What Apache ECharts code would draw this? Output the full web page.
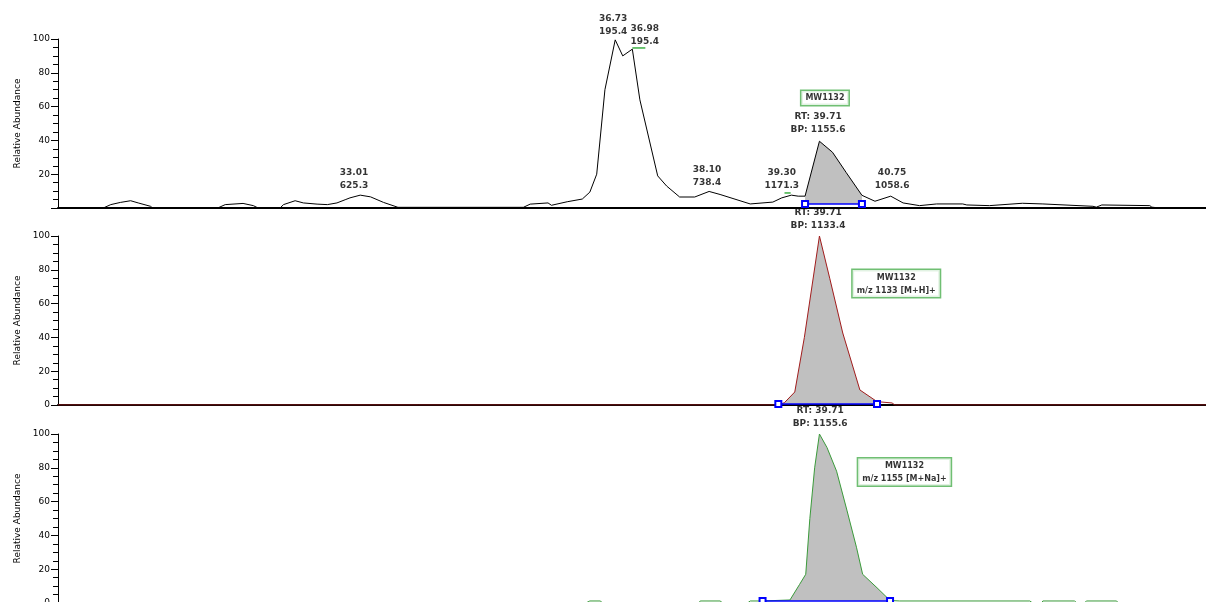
<!DOCTYPE html>
<html><head><meta charset="utf-8">
<script src="https://cdn.jsdelivr.net/npm/echarts@6/dist/echarts.min.js"></script>
<style>html,body{margin:0;padding:0;background:#fff;overflow:hidden}#c{width:1206px;height:602px}</style>
</head><body><div id="c"></div><script>
// ---- Data (retention time in min, relative abundance %) ----
const ticTime  = [28.60,29.26,29.37,29.51,29.66,29.77,29.95,29.98,30.93,31.04,31.30,31.45,31.52,31.84,31.89,32.06,32.18,32.38,32.53,32.67,32.79,32.86,33.01,33.16,33.35,33.56,35.39,35.49,35.75,35.80,36.03,36.25,36.36,36.46,36.58,36.73,36.84,36.98,37.09,37.35,37.48,37.67,37.89,38.10,38.26,38.70,39.03,39.16,39.30,39.40,39.50,39.71,39.90,40.10,40.33,40.52,40.75,40.93,41.17,41.42,41.80,41.86,42.19,42.67,42.97,43.70,43.75,43.83,44.53,44.56,44.67,45.35];
const ticValue = [0,0,2,3.3,4.3,3,1,0,0,2,2.7,1.4,0,0,2,4.3,3,2.3,2,3,4.9,6,7.6,6.6,3.3,0.4,0.4,2.3,3,1.6,3.7,5.3,9.4,20,70,99.5,90,94,64,19,13,6.5,6.5,9.8,8,2.4,3.5,6,7.6,7,7,39.5,33,21,7.5,4,7,3,1.4,2.4,2.4,1.8,1.4,2.8,2.4,1.0,0.5,1.8,1.4,0.5,0,0];

const mhTime  = [28.60,39.11,39.20,39.35,39.49,39.71,39.86,40.05,40.30,40.55,40.77,40.81,45.35];
const mhValue = [0,0,1.4,7.7,40,100,75,42.6,8.9,2,1.2,0,0];

const mnaTime  = [28.60,36.30,36.36,36.51,36.55,37.95,37.97,38.26,38.30,38.66,38.70,38.88,39.28,39.42,39.51,39.57,39.64,39.71,39.82,39.96,40.11,40.25,40.34,40.55,40.74,40.88,42.78,42.82,42.95,42.97,43.43,43.47,43.57,43.61,44.04,44.08,45.35];
const mnaValue = [0,0,1.2,1.2,0,0,1.2,1.2,0,0,1.2,1.2,1.8,11,17,50,80,100,92,78,55,33,17,9,1.5,1.2,1.2,0,0,1.2,1.2,0,0,1.2,1.2,0,0];

// integrated peak windows [start, end, baseline]
const ticPeak = [39.50, 40.33, 2.4];
const mhPeak  = [39.11, 40.55, 0.6];
const mnaPeak = [38.88, 40.74, 1.2];

// peak labels: [time, abundance, text]
const ticLabels = [
  [36.70, 100.5, '36.73\n195.4'],
  [37.16, 94.5, '36.98\n195.4'],
  [38.07, 11.2, '38.10\n738.4'],
  [39.16, 9.5, '39.30\n1171.3'],
  [40.77, 9.5, '40.75\n1058.6'],
  [32.92, 9.5, '33.01\n625.3'],
  [39.69, 42.6, 'RT: 39.71\nBP: 1155.6']
];
const mhLabels  = [[39.69, 102.5, 'RT: 39.71\nBP: 1133.4']];
const mnaLabels = [[39.72, 102.5, 'RT: 39.71\nBP: 1155.6']];

// picked-peak marks under labels: [startTime, endTime, abundance]
const ticMarks = [[36.98, 37.17, 94.7], [39.20, 39.29, 8.9]];

// boxed compound labels: [time, abundance, text]
const ticBoxes = [[39.79, 61, 'MW1132']];
const mhBoxes  = [[40.83, 63.9, 'MW1132\nm/z 1133 [M+H]+']];
const mnaBoxes = [[40.95, 69.6, 'MW1132\nm/z 1155 [M+Na]+']];

const yTicks = [0, 20, 40, 60, 80, 100];

// ---- Chart ----
const zip = (a, b) => a.map((t, i) => [t, b[i]]);
const FONT = 'DejaVu Sans';
const grids = [
  {left: 58, right: 0, top: 39, height: 169, outerBoundsMode: 'none', containLabel: false},
  {left: 58, right: 0, top: 236, height: 169, outerBoundsMode: 'none', containLabel: false},
  {left: 58, right: 0, top: 434, height: 169, outerBoundsMode: 'none', containLabel: false}
];
const xAxes = grids.map((g, i) => ({
  type: 'value', gridIndex: i, min: 28.6, max: 45.35,
  axisLine: {show: true, onZero: false, lineStyle: {color: '#000', width: 2}},
  axisTick: {show: false}, axisLabel: {show: false}, splitLine: {show: false}
}));
const yAxes = grids.map((g, i) => ({
  type: 'value', gridIndex: i, min: yTicks[0], max: yTicks[yTicks.length - 1], interval: yTicks[1] - yTicks[0],
  name: 'Relative Abundance', nameLocation: 'middle', nameGap: 36, nameRotate: 90,
  nameTextStyle: {fontFamily: FONT, fontSize: 9, color: '#000'},
  axisLine: {show: true, lineStyle: {color: '#000', width: 1}},
  axisTick: {show: true, length: 7, lineStyle: {color: '#000'}},
  minorTick: {show: true, splitNumber: 4, length: 5, lineStyle: {color: '#000'}},
  splitLine: {show: false},
  axisLabel: {fontFamily: FONT, fontSize: 9, color: '#000', margin: 8,
    formatter: v => (i === 0 && v === 0) ? '' : String(v)}
}));

function traceSeries(idx, t, v, color, peak, labels, boxes, marks) {
  const pts = zip(t, v);
  const fillPts = pts.filter(p => p[0] >= peak[0] && p[0] <= peak[1]);
  const out = [
    {type: 'line', xAxisIndex: idx, yAxisIndex: idx, data: fillPts, symbol: 'none', z: 1,
     lineStyle: {width: 0}, areaStyle: {color: '#c0c0c0', opacity: 1, origin: peak[2]}, silent: true},
    {type: 'line', xAxisIndex: idx, yAxisIndex: idx, data: pts, symbol: 'none', z: 3,
     lineStyle: {color: color, width: 1}, silent: true},
    {type: 'line', xAxisIndex: idx, yAxisIndex: idx, data: [[peak[0], peak[2]], [peak[1], peak[2]]], z: 4,
     symbol: 'emptyRect', symbolSize: 6, showSymbol: true,
     itemStyle: {color: '#0000ff', borderColor: '#0000ff', borderWidth: 1},
     lineStyle: {color: '#0000ff', width: 1.5}, silent: true},
    {type: 'scatter', xAxisIndex: idx, yAxisIndex: idx, symbolSize: 0, clip: false, z: 5,
     data: labels.map(l => ({value: [l[0], l[1]], name: l[2]})),
     label: {show: true, position: 'top', distance: 0, formatter: '{b}', fontFamily: FONT,
       fontWeight: 'bold', fontSize: 9, lineHeight: 13, color: '#000'}, silent: true},
    {type: 'scatter', xAxisIndex: idx, yAxisIndex: idx, symbolSize: 0, clip: false, z: 6,
     data: boxes.map(l => ({value: [l[0], l[1]], name: l[2]})),
     label: {show: true, position: 'top', distance: 0, formatter: '{b}', fontFamily: FONT,
       fontWeight: 'bold', fontSize: 8, lineHeight: 13, color: '#000', align: 'center',
       backgroundColor: '#fff', borderColor: '#4caf50', borderWidth: 1.5, padding: [1, 4, 0, 4]}, silent: true}
  ];
  (marks || []).forEach(m => out.push(
    {type: 'line', xAxisIndex: idx, yAxisIndex: idx, data: [[m[0], m[2]], [m[1], m[2]]], symbol: 'none', z: 4,
     clip: false, lineStyle: {color: '#3cb043', width: 1.5}, silent: true}));
  return out;
}

const chart = echarts.init(document.getElementById('c'), null, {renderer: 'canvas'});
chart.setOption({
  animation: false,
  backgroundColor: '#fff',
  grid: grids, xAxis: xAxes, yAxis: yAxes,
  series: [].concat(
    traceSeries(0, ticTime, ticValue, '#000000', ticPeak, ticLabels, ticBoxes, ticMarks),
    traceSeries(1, mhTime, mhValue, '#a01c1c', mhPeak, mhLabels, mhBoxes),
    traceSeries(2, mnaTime, mnaValue, '#3a9a3a', mnaPeak, mnaLabels, mnaBoxes)
  )
});
</script></body></html>
